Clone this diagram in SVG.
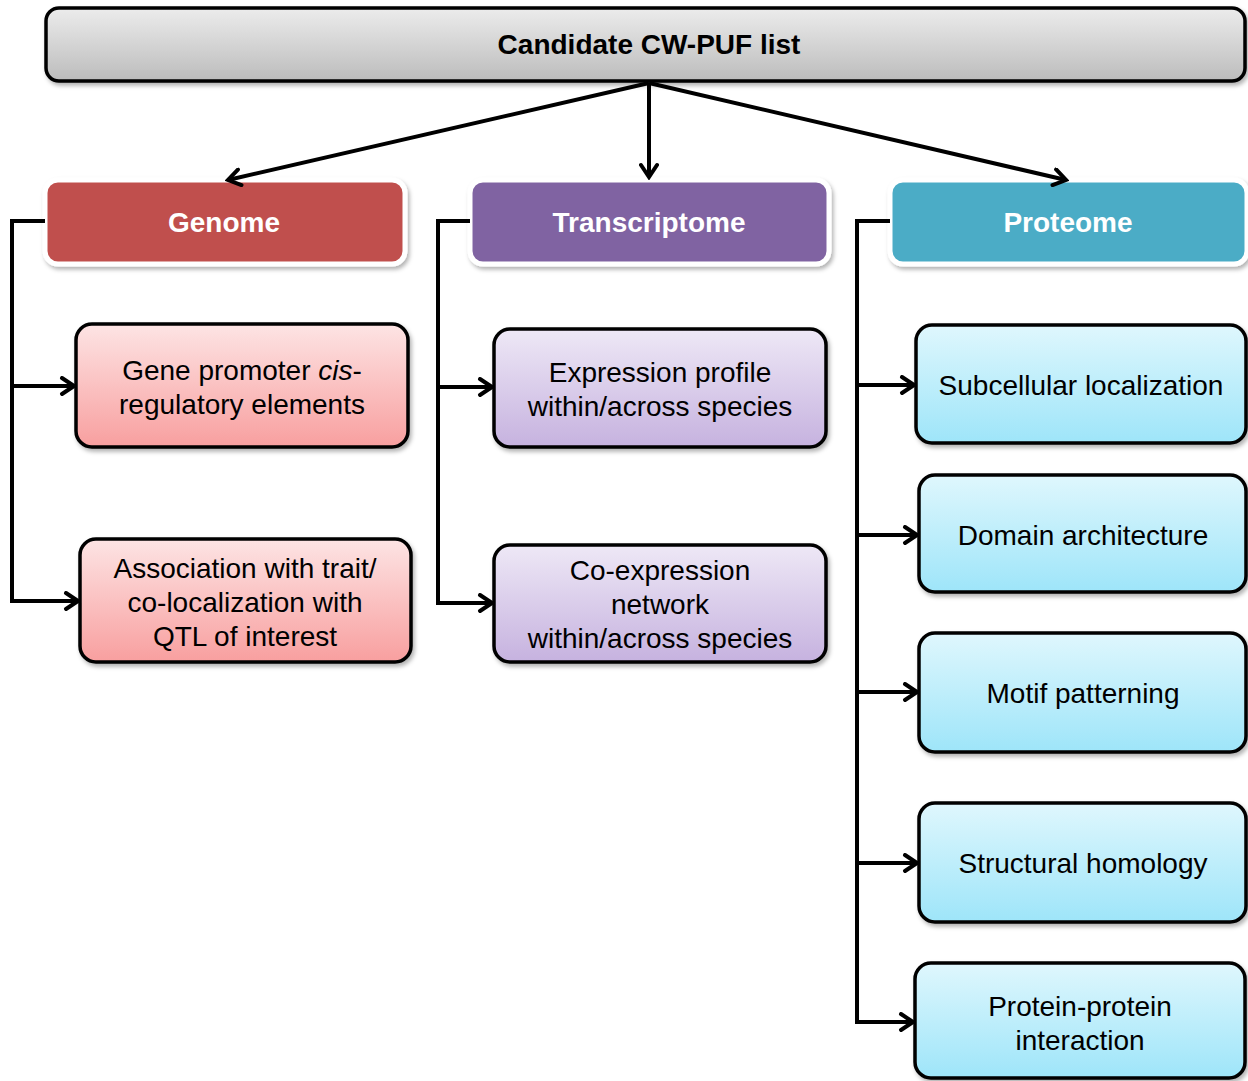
<svg xmlns="http://www.w3.org/2000/svg" width="1248" height="1081" viewBox="0 0 1248 1081">
<style>
.t{font-family:"Liberation Sans",Arial,sans-serif;font-size:28px;fill:#000;text-anchor:middle}
.h{font-family:"Liberation Sans",Arial,sans-serif;font-size:28px;font-weight:bold;fill:#fff;text-anchor:middle}
.ttl{font-family:"Liberation Sans",Arial,sans-serif;font-size:28px;font-weight:bold;fill:#000;text-anchor:middle}
.box{stroke:#000;stroke-width:3.5;filter:url(#sh)}
.hdr{stroke:#fff;stroke-width:5;filter:url(#sh)}
.c{fill:none;stroke:#000;stroke-width:4}
</style>
<defs>
<filter id="sh" x="-5%" y="-10%" width="112%" height="130%">
<feDropShadow dx="2" dy="3" stdDeviation="2" flood-color="#000" flood-opacity="0.3"/>
</filter>
<linearGradient id="gGrey" x1="0" y1="0" x2="0" y2="1"><stop offset="0" stop-color="#ececec"/><stop offset="1" stop-color="#bcbcbc"/></linearGradient>
<linearGradient id="gPink" x1="0" y1="0" x2="0" y2="1"><stop offset="0" stop-color="#fde4e4"/><stop offset="1" stop-color="#f89f9f"/></linearGradient>
<linearGradient id="gPurple" x1="0" y1="0" x2="0" y2="1"><stop offset="0" stop-color="#eee8f6"/><stop offset="1" stop-color="#c6b2df"/></linearGradient>
<linearGradient id="gBlue" x1="0" y1="0" x2="0" y2="1"><stop offset="0" stop-color="#dff7fd"/><stop offset="1" stop-color="#9ee5f9"/></linearGradient>
<marker id="arr" viewBox="0 0 18 20" refX="15" refY="10" markerWidth="18" markerHeight="20" markerUnits="userSpaceOnUse" orient="auto">
<path d="M3,2 L15,10 L3,18" fill="none" stroke="#000" stroke-width="4" stroke-linecap="round" stroke-linejoin="miter"/>
</marker>
</defs>

<g id="title">
<rect class="box" x="46" y="8" width="1199" height="73" rx="13" fill="url(#gGrey)"/>
<text class="ttl" x="649" y="54">Candidate CW-PUF list</text>
</g>

<g id="genome">
<rect class="hdr" x="45" y="180" width="360" height="84" rx="13" fill="#c0504d"/>
<text class="h" x="224" y="232">Genome</text>
</g>
<g id="transcriptome">
<rect class="hdr" x="470" y="180" width="359" height="84" rx="13" fill="#8064a2"/>
<text class="h" x="649" y="232">Transcriptome</text>
</g>
<g id="proteome">
<rect class="hdr" x="890" y="180" width="357" height="84" rx="13" fill="#4bacc6"/>
<text class="h" x="1068" y="232">Proteome</text>
</g>

<g id="gene-promoter">
<rect class="box" x="76" y="324" width="332" height="123" rx="16" fill="url(#gPink)"/>
<text class="t" x="242" y="380">Gene promoter <tspan font-style="italic">cis</tspan>-</text>
<text class="t" x="242" y="414">regulatory elements</text>
</g>
<g id="association">
<rect class="box" x="80" y="539" width="331" height="123" rx="16" fill="url(#gPink)"/>
<text class="t" x="245" y="578">Association with trait/</text>
<text class="t" x="245" y="612">co-localization with</text>
<text class="t" x="245" y="646">QTL of interest</text>
</g>

<g id="expression-profile">
<rect class="box" x="494" y="329" width="332" height="118" rx="16" fill="url(#gPurple)"/>
<text class="t" x="660" y="382">Expression profile</text>
<text class="t" x="660" y="416">within/across species</text>
</g>
<g id="coexpression">
<rect class="box" x="494" y="545" width="332" height="117" rx="16" fill="url(#gPurple)"/>
<text class="t" x="660" y="580">Co-expression</text>
<text class="t" x="660" y="614">network</text>
<text class="t" x="660" y="648">within/across species</text>
</g>

<g id="subcellular">
<rect class="box" x="916" y="325" width="330" height="118" rx="16" fill="url(#gBlue)"/>
<text class="t" x="1081" y="395">Subcellular localization</text>
</g>
<g id="domain">
<rect class="box" x="919" y="475" width="327" height="117" rx="16" fill="url(#gBlue)"/>
<text class="t" x="1083" y="545">Domain architecture</text>
</g>
<g id="motif">
<rect class="box" x="919" y="633" width="327" height="119" rx="16" fill="url(#gBlue)"/>
<text class="t" x="1083" y="703">Motif patterning</text>
</g>
<g id="structural">
<rect class="box" x="919" y="803" width="327" height="119" rx="16" fill="url(#gBlue)"/>
<text class="t" x="1083" y="873">Structural homology</text>
</g>
<g id="ppi">
<rect class="box" x="915" y="963" width="330" height="115" rx="16" fill="url(#gBlue)"/>
<text class="t" x="1080" y="1016">Protein-protein</text>
<text class="t" x="1080" y="1050">interaction</text>
</g>

<g id="connectors">
<line class="c" x1="649" y1="83" x2="228" y2="180" marker-end="url(#arr)"/>
<line class="c" x1="649" y1="83" x2="649" y2="177" marker-end="url(#arr)"/>
<line class="c" x1="649" y1="83" x2="1066" y2="180" marker-end="url(#arr)"/>
<path class="c" d="M45,221 H12 V601 H78" marker-end="url(#arr)"/>
<path class="c" d="M12,386 H74" marker-end="url(#arr)"/>
<path class="c" d="M470,221 H438 V603 H492" marker-end="url(#arr)"/>
<path class="c" d="M438,387 H492" marker-end="url(#arr)"/>
<path class="c" d="M890,221 H857 V1022 H913" marker-end="url(#arr)"/>
<path class="c" d="M857,385 H914" marker-end="url(#arr)"/>
<path class="c" d="M857,535 H917" marker-end="url(#arr)"/>
<path class="c" d="M857,692 H917" marker-end="url(#arr)"/>
<path class="c" d="M857,863 H917" marker-end="url(#arr)"/>
</g>
</svg>
